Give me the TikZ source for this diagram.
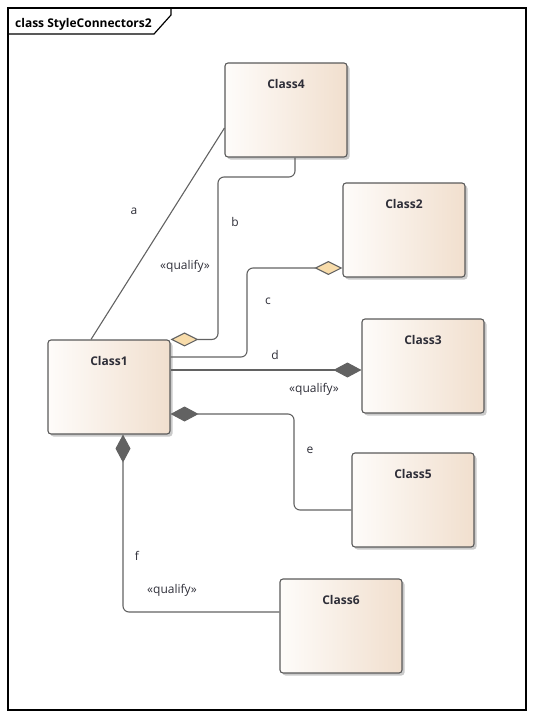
\documentclass[tikz,border=0pt]{standalone}
\usepackage{fontspec}
\setmainfont{Open Sans}
\usetikzlibrary{arrows.meta}
\usetikzlibrary{shadows}
\definecolor{boxleft}{HTML}{FEFCFA}
\definecolor{boxright}{HTML}{F1DFCE}
\definecolor{boxline}{HTML}{5A5A5A}
\definecolor{linegray}{HTML}{626262}
\definecolor{peach}{HTML}{F8DCAA}
\definecolor{labeltext}{HTML}{2E2E38}
\tikzset{classbox/.style={draw=boxline, line width=1.1pt, rounded corners=3pt,
   left color=boxleft, right color=boxright, minimum width=122pt, inner sep=0pt,
   text height=25pt, text depth=69pt, text=labeltext,
   font=\fontsize{12}{14}\selectfont\bfseries,
   drop shadow={shadow xshift=2.5pt, shadow yshift=-2.5pt, fill=black!35, opacity=.6}},
 conn/.style={draw=linegray, line width=1.1pt, rounded corners=6pt},
 lbl/.style={text=labeltext, font=\fontsize{12}{14}\selectfont, inner sep=0pt},
 peachdia/.style={arrows={{Diamond[length=28pt,width=14pt,fill=peach]}-}},
 darkdia/.style={arrows={{Diamond[length=28pt,width=15pt,fill=linegray]}-}},
 darkdiaend/.style={arrows={-{Diamond[length=28pt,width=15pt,fill=linegray]}}},
 }

\begin{document}
\begin{tikzpicture}[x=1pt, y=-1pt]
        \useasboundingbox (0,0) rectangle (534,718);
        % frame and title tab
        \draw[line width=1.2pt] (8,8) rectangle (526,710);
        \draw[line width=1.2pt] (8,34) -- (154,34) -- (171,15) -- (171,8);
        \node[anchor=base west, inner sep=0pt, font=\fontsize{12}{14}\selectfont\bfseries]
            (title) at (15,27) {class StyleConnectors2};

        % classes
        \node[classbox] (class4) at (286,110) {Class4};
        \node[classbox] (class2) at (404,230) {Class2};
        \node[classbox] (class1) at (109,387) {Class1};
        \node[classbox] (class3) at (423,366) {Class3};
        \node[classbox] (class5) at (413,500) {Class5};
        \node[classbox] (class6) at (341,626) {Class6};

        % connectors
        \draw[conn] ([xshift=-18pt]class1.north) -- ([yshift=-18pt]class4.west);
        \draw[conn, peachdia] (class1.north east) -| (218,177) -| ([xshift=9pt]class4.south);
        \draw[conn, peachdia] ([yshift=-38pt]class2.west) -| (247,357) -- ([yshift=30pt]class1.east);
        \draw[conn, darkdiaend] ([yshift=17pt]class1.east) -- ([yshift=17pt]class1.east -| class3.west);
        \draw[conn, darkdia] ([yshift=-27pt]class1.east) -| (294,510) -- ([yshift=-10pt]class5.west);
        \draw[conn, darkdia] ([xshift=14pt]class1.south) |- ([yshift=14pt]class6.west);

        % labels
        \node[lbl] (la) at (134,211) {a};
        \node[lbl] (lb) at (235,222) {b};
        \node[lbl] (qb) at (185,266) {«qualify»};
        \node[lbl] (lc) at (268,301) {c};
        \node[lbl] (ld) at (275,355) {d};
        \node[lbl] (qd) at (314,389) {«qualify»};
        \node[lbl] (le) at (310,450) {e};
        \node[lbl] (lf) at (137,556) {f};
        \node[lbl] (qf) at (172,590) {«qualify»};
    \end{tikzpicture}
\end{document}
